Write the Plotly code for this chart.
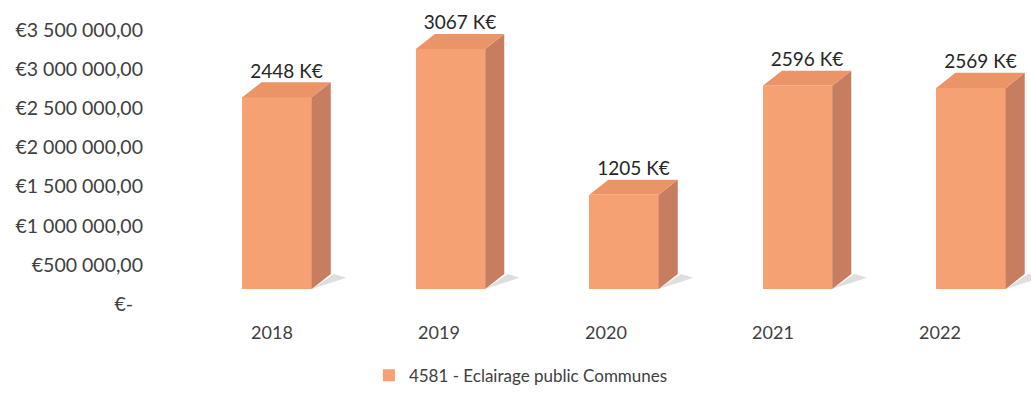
import plotly.graph_objects as go

# Annual spending, account 4581 - public lighting (in K€)
years = ["2018", "2019", "2020", "2021", "2022"]
values_k = [2448, 3067, 1205, 2596, 2569]
series_name = "4581 - Eclairage public Communes"

# Value axis ticks
tick_values = [0, 500000, 1000000, 1500000, 2000000, 2500000, 3000000, 3500000]
tick_labels = ["€-\u00a0\u00a0", "€500 000,00", "€1 000 000,00", "€1 500 000,00",
               "€2 000 000,00", "€2 500 000,00", "€3 000 000,00", "€3 500 000,00"]

FONT = "Lato"
TEXT_COLOR = "#404040"
FRONT = "#F5A173"
TOP = "#EB9468"
SIDE = "#C67D60"
SHADOW = "rgba(160,160,160,0.35)"

# Pseudo-3D geometry (bar width and depth offset, in axis units)
BAR_W = 0.40
DEPTH_X = 0.11
DEPTH_Y = 192000

idx = list(range(len(years)))
vals = [v * 1000 for v in values_k]

fig = go.Figure()

# invisible anchor trace so the labelled axes are drawn
fig.add_trace(go.Scatter(
    x=idx, y=[0] * len(idx), mode="markers", marker=dict(opacity=0),
    xaxis="x2", yaxis="y2", hoverinfo="skip", showlegend=False))

# floor shadows, to the right of each column
for i, v in zip(idx, vals):
    x1 = i + BAR_W / 2
    fig.add_trace(go.Scatter(
        x=[x1, x1 + DEPTH_X + 0.09, x1 + DEPTH_X + 0.02, x1],
        y=[0, DEPTH_Y * 0.75, DEPTH_Y, 0],
        fill="toself", fillcolor=SHADOW, line=dict(width=0),
        mode="lines", hoverinfo="skip", showlegend=False))

# front faces
fig.add_trace(go.Bar(
    x=idx, y=vals, width=BAR_W, name=series_name,
    marker=dict(color=FRONT, line=dict(width=0)),
    showlegend=True))

# side and top faces
for i, v in zip(idx, vals):
    x0, x1 = i - BAR_W / 2, i + BAR_W / 2
    fig.add_trace(go.Scatter(
        x=[x1, x1, x1 + DEPTH_X, x1 + DEPTH_X, x1],
        y=[0, v, v + DEPTH_Y, DEPTH_Y, 0],
        fill="toself", fillcolor=SIDE, line=dict(width=0),
        mode="lines", hoverinfo="skip", showlegend=False))
    fig.add_trace(go.Scatter(
        x=[x0, x1, x1 + DEPTH_X, x0 + DEPTH_X, x0],
        y=[v, v, v + DEPTH_Y, v + DEPTH_Y, v],
        fill="toself", fillcolor=TOP, line=dict(width=0),
        mode="lines", hoverinfo="skip", showlegend=False))

# value labels above each column
fig.add_trace(go.Scatter(
    x=[i + DEPTH_X / 2 for i in idx],
    y=[v + DEPTH_Y for v in vals],
    mode="text",
    text=[f"{v} K€" for v in values_k],
    textposition="top center",
    textfont=dict(family=FONT, size=19, color="#262626"),
    hoverinfo="skip", showlegend=False))

fig.update_layout(
    width=1031, height=398,
    margin=dict(l=150, r=0, t=10, b=78),
    paper_bgcolor="white", plot_bgcolor="rgba(0,0,0,0)",
    font=dict(family=FONT, size=18, color=TEXT_COLOR),
    bargap=0,
    showlegend=True,
    legend=dict(orientation="h", x=0.421, xanchor="center", y=-0.18, yanchor="middle",
                font=dict(family=FONT, size=17, color=TEXT_COLOR),
                itemwidth=30),
    # axes carrying the columns
    xaxis=dict(range=[-0.732, 4.346], visible=False, fixedrange=True),
    yaxis=dict(range=[-396000, 3564000], visible=False, fixedrange=True),
    # axes carrying the labels
    xaxis2=dict(range=[-0.7305, 4.545], overlaying="x", side="bottom", anchor="y2",
                tickmode="array", tickvals=idx, ticktext=years,
                showgrid=False, zeroline=False, showline=False, ticks="",
                fixedrange=True,
                tickfont=dict(family=FONT, size=18, color=TEXT_COLOR)),
    yaxis2=dict(range=[-204400, 3755000], overlaying="y", side="left", anchor="x2",
                tickmode="array", tickvals=tick_values, ticktext=tick_labels,
                showgrid=False, zeroline=False, showline=False, ticks="",
                fixedrange=True, ticklabelstandoff=6,
                tickfont=dict(family=FONT, size=19.5, color=TEXT_COLOR)),
)

fig.write_html("out.html")
